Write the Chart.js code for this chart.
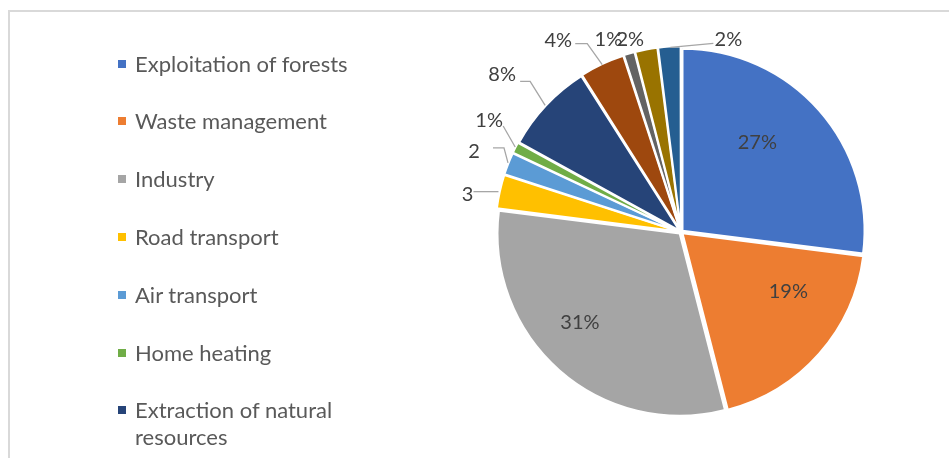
<!DOCTYPE html>
<html>
<head>
<meta charset="utf-8">
<script src="https://cdn.jsdelivr.net/npm/chart.js@4.4.0/dist/chart.umd.min.js"></script>
<style>
html, body { margin: 0; padding: 0; width: 949px; height: 458px; overflow: hidden; background: #fff; }
#frame { position: absolute; left: 8px; top: 10px; width: 941px; height: 448px; border-left: 2px solid #d9d9d9; border-top: 2px solid #d9d9d9; }
#pie { position: absolute; left: 0; top: 0; }
#legend { position: absolute; left: 118px; top: 0; }
.item { position: absolute; left: 0; display: flex; align-items: flex-start; color: #595959; font-family: Lato, 'Open Sans', sans-serif; font-size: 22px; line-height: 27px; }
.item i { display: block; width: 8px; height: 8px; margin-top: 10px; margin-right: 9px; flex: none; }
.item span { width: 230px; }
</style>
</head>
<body>
<div id="frame"></div>
<canvas id="pie" width="949" height="458"></canvas>
<div id="legend"></div>
<script>
// slices, clockwise from 12 o'clock
const categories = ['Exploitation of forests', 'Waste management', 'Industry', 'Road transport',
  'Air transport', 'Home heating', 'Extraction of natural resources', 'Agriculture',
  'Energy production', 'Construction', 'Other sources'];
const values = [27, 19, 31, 3, 2, 1, 8, 4, 1, 2, 2];
const colors = ['#4472C4', '#ED7D31', '#A5A5A5', '#FFC000', '#5B9BD5', '#70AD47',
  '#264478', '#9E480E', '#636363', '#997300', '#255E91'];
const labelText = ['27%', '19%', '31%', '3', '2', '1%', '8%', '4%', '1%', '2%', '2%'];

// label placement: inside ones nudge from 0.64r, outside ones sit relative to the rim
const insideLabel = [true, true, true, false, false, false, false, false, false, false, false];
const labelNudge = [[-11, -12], [20, -17], [-24, 3], [-33, 3], [-35, -12], [-27, -27],
  [-44, -31], [-44, -24], [-21, -15], [-16, -11], [59, -8]];
const leaders = [null, null, null,
  [[-2, 0], [-27, 0]],
  [[-1, -1], [-5, -16], [-16, -16]],
  [[-1, -1], [-13, -22]],
  [[-1, 0], [-16, -24], [-26, -24]],
  [[0, 0], [-15, -21], [-27, -21]],
  null, null,
  [[1, 0], [44, -4]]];

// html legend, same look as the office one
const legend = document.getElementById('legend');
categories.forEach((name, i) => {
  const row = document.createElement('div');
  row.className = 'item';
  row.style.top = (63 + i * 57.8 - 13.5) + 'px';
  row.innerHTML = '<i style="background:' + colors[i] + '"></i><span>' + name + '</span>';
  legend.appendChild(row);
});

const pieLabels = {
  id: 'pieLabels',
  afterDatasetsDraw(chart) {
    const ctx = chart.ctx;
    const arcs = chart.getDatasetMeta(0).data;
    ctx.save();
    ctx.font = '20px Lato';
    ctx.fillStyle = '#404040';
    ctx.strokeStyle = '#a6a6a6';
    ctx.lineWidth = 1.3;
    ctx.textAlign = 'center';
    ctx.textBaseline = 'middle';
    arcs.forEach((arc, i) => {
      const p = arc.getProps(['x', 'y', 'startAngle', 'endAngle', 'outerRadius'], true);
      const mid = (p.startAngle + p.endAngle) / 2;
      const cos = Math.cos(mid), sin = Math.sin(mid);
      const n = labelNudge[i];
      if (insideLabel[i]) {
        ctx.fillText(labelText[i], p.x + cos * p.outerRadius * 0.64 + n[0], p.y + sin * p.outerRadius * 0.64 + n[1]);
        return;
      }
      const ax = p.x + cos * (p.outerRadius + 3);
      const ay = p.y + sin * (p.outerRadius + 3);
      if (leaders[i]) {
        ctx.beginPath();
        leaders[i].forEach((pt, k) => {
          if (k === 0) ctx.moveTo(ax + pt[0], ay + pt[1]);
          else ctx.lineTo(ax + pt[0], ay + pt[1]);
        });
        ctx.stroke();
      }
      ctx.fillText(labelText[i], ax + n[0], ay + n[1]);
    });
    ctx.restore();
  }
};

new Chart(document.getElementById('pie'), {
  type: 'pie',
  data: {
    labels: categories,
    datasets: [{
      data: values,
      backgroundColor: colors,
      borderColor: '#ffffff',
      borderWidth: 2,
      offset: 8
    }]
  },
  options: {
    responsive: false,
    animation: false,
    radius: 182,
    layout: { padding: { left: 491, right: 78, top: 42, bottom: 36 } },
    plugins: {
      legend: { display: false },
      tooltip: { enabled: false }
    }
  },
  plugins: [pieLabels]
});
</script>
</body>
</html>
